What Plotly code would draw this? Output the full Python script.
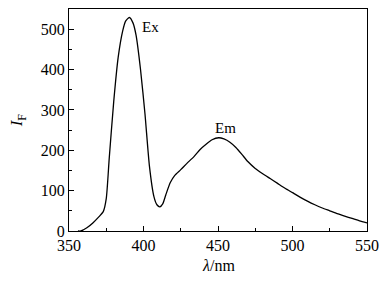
import plotly.graph_objects as go

wavelength = [356, 358, 362, 366, 370, 373, 375, 377, 380, 383, 386, 388, 390.5, 393, 395, 398, 401, 404, 407, 409, 411, 413, 415, 418, 421, 425, 429, 434, 438, 442, 446, 450.5, 454, 458, 462, 466, 470, 475, 480, 485, 490, 495, 500, 505, 510, 515, 520, 525, 530, 535, 540, 545, 550]
intensity = [0, 0, 8, 20, 35, 48, 80, 180, 320, 430, 495, 520, 529, 515, 485, 400, 290, 160, 85, 65, 60, 68, 90, 120, 138, 152, 167, 185, 202, 215, 226, 231, 228, 220, 207, 190, 172, 155, 142, 130, 118, 106, 95, 84, 74, 65, 57, 50, 43, 37, 31, 25, 20]

x_ticks = [350, 400, 450, 500, 550]
y_ticks = [0, 100, 200, 300, 400, 500]

SERIF = "Liberation Serif, Times New Roman, serif"

fig = go.Figure()
fig.add_trace(go.Scatter(x=wavelength, y=intensity, mode="lines",
                         line=dict(color="black", width=1.3, shape="spline", smoothing=0.6),
                         showlegend=False, hoverinfo="skip"))

fig.add_annotation(x=405, y=505, text="Ex", showarrow=False,
                   font=dict(family=SERIF, size=15, color="black"))
fig.add_annotation(x=455, y=255, text="Em", showarrow=False,
                   font=dict(family=SERIF, size=15, color="black"))
fig.add_annotation(xref="paper", yref="paper", x=0.5, y=-0.155, yanchor="middle", xanchor="center",
                   text="<i>λ</i>/nm", showarrow=False,
                   font=dict(family=SERIF, size=16, color="black"))
fig.add_annotation(xref="paper", yref="paper", x=-0.17, y=0.5, xanchor="center", yanchor="middle",
                   text="<i>I</i><sub>F</sub>", showarrow=False, textangle=-90,
                   font=dict(family=SERIF, size=17, color="black"))

axis_font = dict(family=SERIF, size=16, color="black")
fig.update_xaxes(range=[350, 550], tickvals=x_ticks, ticks="inside", ticklen=5,
                 tickwidth=1, tickcolor="black", showline=True, linecolor="black",
                 linewidth=1.2, mirror=True, showgrid=False, zeroline=False,
                 tickfont=axis_font, automargin=False,
                 minor=dict(tickvals=[375, 425, 475, 525], ticks="inside", ticklen=3, tickcolor="black"))
fig.update_yaxes(range=[0, 550], tickvals=y_ticks, ticks="inside", ticklen=5,
                 tickwidth=1, tickcolor="black", showline=True, linecolor="black",
                 linewidth=1.2, mirror=True, showgrid=False, zeroline=False,
                 tickfont=axis_font, automargin=False,
                 minor=dict(tickvals=[50, 150, 250, 350, 450], ticks="inside", ticklen=3, tickcolor="black"))

fig.update_layout(width=387, height=282, margin=dict(l=69, r=20, t=9, b=51),
                  paper_bgcolor="white", plot_bgcolor="white", hovermode=False)
fig.write_html("out.html", config={"displayModeBar": False},
               post_script="document.body.style.margin='0';document.body.style.overflow='hidden';")
